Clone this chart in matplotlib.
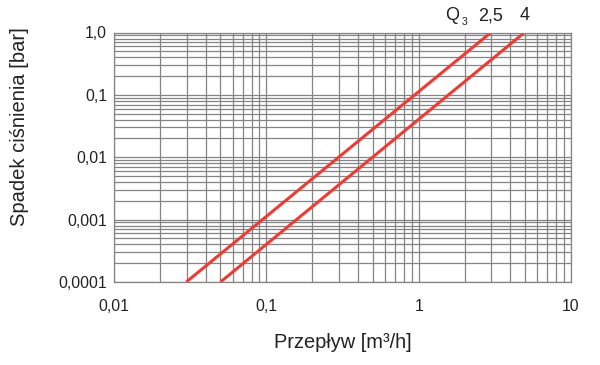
import matplotlib
matplotlib.use("Agg")
import matplotlib.pyplot as plt
import numpy as np

plt.rcParams['font.family'] = ['Liberation Sans', 'DejaVu Sans']

# data
flow_q25 = [0.0298, 2.98]
flow_q4 = [0.0500, 4.95]
dp = [0.0001, 1.0]
xticks = [0.01, 0.1, 1, 10]
xtick_labels = ["0,01", "0,1", "1", "10"]
yticks = [0.0001, 0.001, 0.01, 0.1, 1.0]
ytick_labels = ["0,0001", "0,001", "0,01", "0,1", "1,0"]
series_labels = ["2,5", "4"]

fig = plt.figure(figsize=(6, 3.65), dpi=100)
ax = fig.add_axes([114/600, 1-282/365, (571-114)/600, (282-32.5)/365])
ax.set_xscale('log')
ax.set_yscale('log')
ax.set_xlim(0.01, 10)
ax.set_ylim(0.0001, 1.0)

ax.grid(True, which='both', color='#848484', linewidth=0.9)
ax.set_axisbelow(True)
for s in ax.spines.values():
    s.set_color('#848484')
    s.set_linewidth(0.9)

ax.plot(flow_q25, dp, color='#ee3b33', linewidth=2.2, solid_capstyle='butt')
ax.plot(flow_q4, dp, color='#ee3b33', linewidth=2.2, solid_capstyle='butt')

ax.set_xticks(xticks)
ax.set_xticklabels(xtick_labels)
ax.set_yticks(yticks)
ax.set_yticklabels(ytick_labels)
ax.tick_params(which='both', length=0, labelsize=11.3, colors='#222222', pad=5)
ax.tick_params(axis='x', pad=12)

ax.set_xlabel("Przepływ [m³/h]", fontsize=14.4, color='#222222', labelpad=14)
ax.set_ylabel("Spadek ciśnienia [bar]", fontsize=14.5, color='#222222', va='center')
ax.yaxis.set_label_coords((20-114)/457, (282-127)/249.5)

# header labels
fig.text(445/600, 1-16/365, "Q", fontsize=13, ha='left', va='center', color='#222222')
fig.text(461.5/600, 1-22/365, "3", fontsize=7.5, ha='left', va='center', color='#222222')
fig.text(ax.transData.transform((flow_q25[1], 1))[0]/600, 1-16/365, series_labels[0],
         fontsize=13, ha='center', va='center', color='#222222')
fig.text(ax.transData.transform((flow_q4[1], 1))[0]/600, 1-16/365, series_labels[1],
         fontsize=13, ha='center', va='center', color='#222222')

fig.savefig("out.png", dpi=100)
